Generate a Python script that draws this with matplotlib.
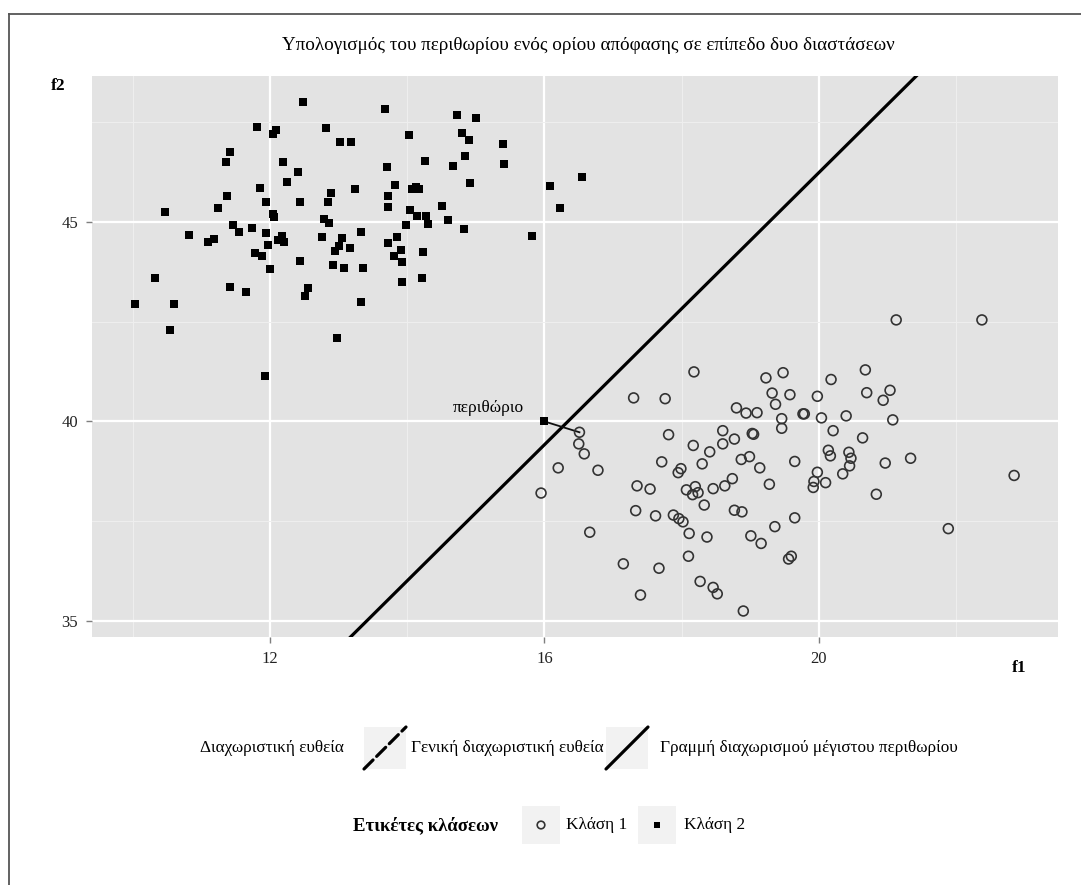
import matplotlib.pyplot as plt
from matplotlib.lines import Line2D

plt.rcParams['font.family'] = ['Liberation Serif', 'DejaVu Serif']

# class 2 (filled squares)
class2_f1 = [12.48, 11.80, 12.09, 12.04, 12.81, 13.02, 13.18, 11.42, 11.35, 12.19,
             12.41, 12.25, 11.85, 12.88, 13.24, 11.37, 11.24, 11.94, 12.44, 12.84,
             10.47, 12.04, 12.05, 12.78, 12.85, 11.46, 11.55, 11.73, 11.94, 13.32,
             10.82, 11.09, 11.18, 12.17, 12.11, 12.20, 11.97, 12.76, 13.05, 13.01,
             12.95, 13.16, 11.78, 11.88, 12.44, 12.91, 13.07, 13.35, 11.99, 10.32,
             11.42, 11.64, 12.55, 12.50, 10.03, 10.60, 13.33, 10.54, 12.97, 11.92,
             13.67, 14.72, 15.00, 14.03, 14.80, 14.90, 15.39, 14.26, 13.71, 14.66,
             14.84, 15.41, 13.82, 13.72, 14.07, 14.12, 14.17, 14.92, 13.72, 14.04,
             14.51, 14.14, 14.27, 14.30, 14.59, 13.98, 14.82, 13.85, 13.72, 13.91,
             13.81, 13.92, 14.23, 14.21, 13.92, 16.08, 16.55, 16.23, 15.82, 16.00]
class2_f2 = [47.98, 47.37, 47.29, 47.19, 47.34, 46.99, 46.98, 46.74, 46.49, 46.49,
             46.23, 46.00, 45.84, 45.72, 45.82, 45.63, 45.34, 45.49, 45.49, 45.48,
             45.23, 45.19, 45.11, 45.06, 44.96, 44.91, 44.75, 44.83, 44.71, 44.75,
             44.66, 44.49, 44.56, 44.64, 44.53, 44.50, 44.42, 44.62, 44.60, 44.38,
             44.27, 44.33, 44.21, 44.13, 44.01, 43.92, 43.84, 43.85, 43.82, 43.59,
             43.36, 43.24, 43.33, 43.14, 42.93, 42.94, 42.99, 42.29, 42.09, 41.13,
             47.81, 47.66, 47.60, 47.17, 47.21, 47.03, 46.94, 46.51, 46.36, 46.39,
             46.64, 46.43, 45.91, 45.65, 45.82, 45.86, 45.82, 45.96, 45.36, 45.30,
             45.38, 45.13, 45.13, 44.95, 45.05, 44.92, 44.82, 44.62, 44.46, 44.28,
             44.15, 44.00, 44.23, 43.60, 43.48, 45.89, 46.12, 45.34, 44.64, 40.00]

# class 1 (open circles)
class1_f1 = [16.51, 16.50, 16.58, 16.20, 16.78, 15.95, 16.66, 18.18, 17.30, 17.76,
             19.23, 19.48, 19.32, 19.58, 19.37, 19.98, 18.80, 18.94, 19.10, 19.46,
             19.46, 19.77, 19.79, 20.04, 17.81, 18.60, 19.03, 19.05, 18.17, 18.60,
             18.77, 18.41, 17.71, 18.30, 18.87, 18.99, 19.65, 19.14, 17.99, 17.95,
             19.28, 18.74, 18.63, 18.46, 17.35, 17.54, 18.07, 18.20, 18.24, 18.16,
             18.33, 17.33, 17.62, 17.88, 17.96, 18.02, 18.77, 18.88, 19.65, 19.36,
             18.11, 18.37, 19.01, 19.16, 18.10, 19.56, 19.60, 17.15, 17.67, 18.27,
             18.46, 18.52, 17.40, 18.90, 21.13, 22.38, 20.68, 20.18, 20.70, 21.04,
             20.94, 20.40, 21.08, 20.21, 20.64, 20.14, 20.17, 20.44, 20.47, 20.45,
             20.97, 21.34, 19.98, 20.35, 19.93, 19.92, 20.10, 20.84, 22.85, 21.89]
class1_f2 = [39.73, 39.44, 39.19, 38.84, 38.78, 38.21, 37.23, 41.24, 40.59, 40.57,
             41.09, 41.22, 40.71, 40.67, 40.43, 40.63, 40.34, 40.21, 40.22, 40.07,
             39.83, 40.19, 40.19, 40.09, 39.67, 39.77, 39.70, 39.68, 39.40, 39.44,
             39.56, 39.24, 38.99, 38.94, 39.05, 39.12, 39.00, 38.84, 38.82, 38.72,
             38.43, 38.57, 38.39, 38.32, 38.39, 38.31, 38.29, 38.37, 38.22, 38.17,
             37.91, 37.77, 37.64, 37.66, 37.57, 37.49, 37.78, 37.74, 37.59, 37.37,
             37.20, 37.11, 37.14, 36.95, 36.63, 36.56, 36.63, 36.44, 36.33, 36.00,
             35.85, 35.69, 35.66, 35.26, 42.54, 42.54, 41.29, 41.05, 40.72, 40.78,
             40.53, 40.14, 40.04, 39.77, 39.59, 39.28, 39.14, 39.23, 39.08, 38.89,
             38.96, 39.08, 38.73, 38.69, 38.50, 38.35, 38.47, 38.18, 38.65, 37.32]

# maximum margin separating line and the two support vectors
sep_slope = 1.70
sep_intercept = 12.22
support_vectors_f1 = [16.00, 16.51]
support_vectors_f2 = [40.00, 39.73]

x_ticks = [12, 16, 20]
y_ticks = [35, 40, 45]
x_minor = [10, 14, 18, 22]
y_minor = [37.5, 42.5, 47.5]

W, H = 1081, 885
fig = plt.figure(figsize=(W / 100, H / 100), dpi=100)


def fx(px):
    return px / W


def fy(py):
    return 1 - py / H


ax = fig.add_axes([fx(92), fy(637), fx(1058) - fx(92), fy(76) - fy(637)])
ax.set_facecolor('#E3E3E3')
for s in ax.spines.values():
    s.set_visible(False)

ax.set_xlim(9.40, 23.49)
ax.set_ylim(34.61, 48.64)
ax.set_xticks(x_ticks)
ax.set_yticks(y_ticks)
ax.set_xticks(x_minor, minor=True)
ax.set_yticks(y_minor, minor=True)
ax.grid(True, which='major', color='white', linewidth=1.6)
ax.grid(True, which='minor', color='#EFEFEF', linewidth=0.7)
ax.set_axisbelow(True)
ax.tick_params(which='major', length=4, width=1, color='#7F7F7F',
               labelsize=12, pad=6, labelcolor='#222222')
ax.tick_params(which='minor', length=0)

ax.axline((0, sep_intercept), slope=sep_slope, color='black', linewidth=2.3, zorder=2)
ax.plot(support_vectors_f1, support_vectors_f2, color='#111111', linewidth=1.3, zorder=2)

ax.scatter(class2_f1, class2_f2, marker='s', s=30, color='black', linewidths=0, zorder=3)
ax.scatter(class1_f1, class1_f2, marker='o', s=50, facecolors='none',
           edgecolors='#333333', linewidths=1.2, zorder=3)

ax.text(15.18, 40.34, 'περιθώριο', ha='center', va='center', fontsize=12.5)

fig.text(fx(588), fy(45), 'Υπολογισμός του περιθωρίου ενός ορίου απόφασης σε επίπεδο δυο διαστάσεων',
         ha='center', va='center', fontsize=13.8)
fig.text(fx(58), fy(86), 'f2', ha='center', va='center', fontsize=12.5, fontweight='bold')
fig.text(fx(1019), fy(668), 'f1', ha='center', va='center', fontsize=12.5, fontweight='bold')

# frame around the figure
fig.add_artist(Line2D([fx(9), fx(9)], [0, fy(14)], color='#555555', linewidth=1.3))
fig.add_artist(Line2D([fx(9), 1], [fy(14), fy(14)], color='#555555', linewidth=1.3))


def key_axes(x0, y0, w, h):
    k = fig.add_axes([fx(x0), fy(y0 + h), w / W, h / H])
    k.set_facecolor('#F2F2F2')
    k.set_xlim(0, 1)
    k.set_ylim(0, 1)
    k.set_xticks([])
    k.set_yticks([])
    for s in k.spines.values():
        s.set_visible(False)
    return k


# line legend
fig.text(fx(200), fy(748), 'Διαχωριστική ευθεία', ha='left', va='center', fontsize=12.4)
k1 = key_axes(364, 727, 42, 42)
k1.plot([0.0, 1.0], [0.0, 1.0], color='black', linewidth=2.3, linestyle=(0, (4, 1.6)),
        clip_on=False, solid_capstyle='round', dash_capstyle='round')
fig.text(fx(411), fy(748), 'Γενική διαχωριστική ευθεία', ha='left', va='center', fontsize=12.4)
k2 = key_axes(606, 727, 42, 42)
k2.plot([0.0, 1.0], [0.0, 1.0], color='black', linewidth=2.3, clip_on=False,
        solid_capstyle='round')
fig.text(fx(660), fy(748), 'Γραμμή διαχωρισμού μέγιστου περιθωρίου', ha='left', va='center',
         fontsize=12.4)

# class legend
fig.text(fx(353), fy(825), 'Ετικέτες κλάσεων', ha='left', va='center', fontsize=13.5,
         fontweight='bold')
k3 = key_axes(522, 806, 38, 38)
k3.scatter([0.5], [0.5], marker='o', s=30, facecolors='none', edgecolors='#333333',
           linewidths=1.2)
fig.text(fx(566), fy(825), 'Κλάση 1', ha='left', va='center', fontsize=12.4)
k4 = key_axes(638, 806, 38, 38)
k4.scatter([0.5], [0.5], marker='s', s=22, color='black', linewidths=0)
fig.text(fx(684), fy(825), 'Κλάση 2', ha='left', va='center', fontsize=12.4)

fig.savefig('out.png', dpi=100)
